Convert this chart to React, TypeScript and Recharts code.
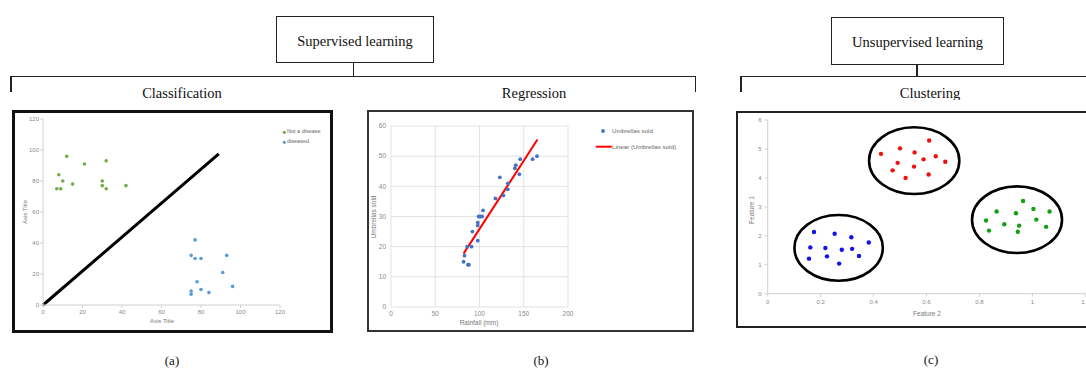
import React from 'react';
import {
  ScatterChart,
  Scatter,
  XAxis,
  YAxis,
  CartesianGrid,
  ReferenceLine,
  ReferenceArea,
} from 'recharts';

// ---- (a) Classification ----
const notDisease = [
  { x: 7, y: 75 }, { x: 8, y: 84 }, { x: 9, y: 75 }, { x: 10, y: 80 },
  { x: 12, y: 96 }, { x: 15, y: 78 }, { x: 21, y: 91 }, { x: 30, y: 80 },
  { x: 30, y: 77 }, { x: 32, y: 75 }, { x: 32, y: 93 }, { x: 42, y: 77 },
];
const diseased = [
  { x: 75, y: 32 }, { x: 77, y: 42 }, { x: 77, y: 30 }, { x: 80, y: 30 },
  { x: 75, y: 9 }, { x: 75, y: 7 }, { x: 78, y: 15 }, { x: 80, y: 10 },
  { x: 84, y: 8 }, { x: 91, y: 21 }, { x: 93, y: 32 }, { x: 96, y: 12 },
];
const boundary = [{ x: 0, y: 0 }, { x: 89, y: 97.5 }];
const classTicks = [0, 20, 40, 60, 80, 100, 120];

// ---- (b) Regression ----
const rainfall = [82, 83, 86, 87, 88, 91, 92, 98, 98, 98, 99, 101, 103, 104, 118, 123, 127, 132, 132, 140, 141, 145, 146, 160, 165];
const umbrellasSold = [15, 17, 20, 14, 14, 20, 25, 22, 27, 28, 30, 30, 30, 32, 36, 43, 37, 39, 41, 46, 47, 44, 49, 49, 50];
const trendLine = [{ x: 82, y: 17.7 }, { x: 165.5, y: 55.5 }];
const rainTicks = [0, 50, 100, 150, 200];
const soldTicks = [0, 10, 20, 30, 40, 50, 60];

// ---- (c) Clustering ----
const clusterRed = [
  { x: 0.428, y: 4.83 }, { x: 0.5, y: 5.02 }, { x: 0.555, y: 4.88 }, { x: 0.61, y: 5.29 },
  { x: 0.491, y: 4.52 }, { x: 0.589, y: 4.64 }, { x: 0.635, y: 4.75 }, { x: 0.671, y: 4.56 },
  { x: 0.472, y: 4.26 }, { x: 0.553, y: 4.39 }, { x: 0.521, y: 4.0 }, { x: 0.608, y: 4.12 },
];
const clusterGreen = [
  { x: 0.965, y: 3.2 }, { x: 0.865, y: 2.84 }, { x: 0.825, y: 2.53 }, { x: 0.836, y: 2.18 },
  { x: 0.894, y: 2.4 }, { x: 0.938, y: 2.78 }, { x: 0.95, y: 2.35 }, { x: 0.945, y: 2.14 },
  { x: 1.004, y: 2.93 }, { x: 1.015, y: 2.56 }, { x: 1.065, y: 2.84 }, { x: 1.052, y: 2.31 },
];
const clusterBlue = [
  { x: 0.175, y: 2.13 }, { x: 0.253, y: 2.07 }, { x: 0.316, y: 1.95 }, { x: 0.382, y: 1.77 },
  { x: 0.161, y: 1.6 }, { x: 0.218, y: 1.58 }, { x: 0.28, y: 1.52 }, { x: 0.319, y: 1.55 },
  { x: 0.156, y: 1.21 }, { x: 0.224, y: 1.29 }, { x: 0.345, y: 1.3 }, { x: 0.27, y: 1.04 },
];
// bounding boxes of the cluster outlines: [x1, x2, y1, y2]
const clusterOutlines = [
  [0.383, 0.724, 3.443, 5.747],
  [0.772, 1.112, 1.405, 3.708],
  [0.101, 0.435, 0.449, 2.718],
];
const featXTicks = [0, 0.2, 0.4, 0.6, 0.8, 1, 1.2];
const featYTicks = [0, 1, 2, 3, 4, 5, 6];

const regressionData = rainfall.map((x, i) => ({ x, y: umbrellasSold[i] }));

const SERIF = '"Liberation Serif", "DejaVu Serif", serif';
const SANS = '"Liberation Sans", Arial, sans-serif';

const dot = (r: number, fill: string) => (p: any) => (
  <circle cx={p.cx} cy={p.cy} r={r} fill={fill} />
);

const ellipseShape = (p: any) => (
  <ellipse
    cx={p.x + p.width / 2}
    cy={p.y + p.height / 2}
    rx={p.width / 2}
    ry={p.height / 2}
    fill="none"
    stroke="#000"
    strokeWidth={2.6}
  />
);

type TxtProps = {
  x: number;
  y: number;
  size: number;
  font?: string;
  color?: string;
  left?: boolean;
  rotate?: boolean;
  children: React.ReactNode;
};

function Txt({ x, y, size, font = SERIF, color = '#111', left, rotate, children }: TxtProps) {
  const tr = left ? 'translate(0,-50%)' : 'translate(-50%,-50%)';
  return (
    <div
      style={{
        position: 'absolute',
        left: x,
        top: y,
        transform: tr + (rotate ? ' rotate(-90deg)' : ''),
        fontFamily: font,
        fontSize: size,
        color,
        whiteSpace: 'nowrap',
        lineHeight: 1,
      }}
    >
      {children}
    </div>
  );
}

function Line({ x1, y1, x2, y2, w = 1.4, c = '#222' }: any) {
  const horiz = y1 === y2;
  return (
    <div
      style={{
        position: 'absolute',
        left: horiz ? x1 : x1 - w / 2,
        top: horiz ? y1 - w / 2 : y1,
        width: horiz ? x2 - x1 : w,
        height: horiz ? w : y2 - y1,
        background: c,
      }}
    />
  );
}

function Box({ x, y, w, h, b, c = '#222' }: any) {
  return (
    <div
      style={{
        position: 'absolute',
        left: x,
        top: y,
        width: w,
        height: h,
        border: `${b}px solid ${c}`,
        boxSizing: 'border-box',
        pointerEvents: 'none',
      }}
    />
  );
}

const tickGray = { fill: '#8a8a8a', fontSize: 6, fontFamily: SANS };
const axisGray = '#d0d0d0';

function ClassificationChart() {
  return (
    <div style={{ position: 'absolute', left: 12, top: 110 }}>
      <ScatterChart width={322} height={222} margin={{ top: 9, right: 54, bottom: 0, left: 11 }}>
        <XAxis
          type="number"
          dataKey="x"
          domain={[0, 120]}
          ticks={classTicks}
          height={27}
          stroke={axisGray}
          tickSize={3}
          tickMargin={2}
          tick={tickGray}
        />
        <YAxis
          type="number"
          dataKey="y"
          domain={[0, 120]}
          ticks={classTicks}
          width={20}
          stroke={axisGray}
          tickSize={3}
          tickMargin={1}
          tick={tickGray}
        />
        <ReferenceLine segment={boundary} stroke="#000" strokeWidth={3} />
        <Scatter data={notDisease} fill="#70AD47" shape={dot(1.8, '#70AD47')} isAnimationActive={false} />
        <Scatter data={diseased} fill="#5B9BD5" shape={dot(1.8, '#5B9BD5')} isAnimationActive={false} />
      </ScatterChart>
    </div>
  );
}

function RegressionChart() {
  return (
    <div style={{ position: 'absolute', left: 367, top: 110 }}>
      <ScatterChart width={327} height={222} margin={{ top: 16, right: 126, bottom: 5, left: 6 }}>
        <CartesianGrid stroke="#dcdcdc" strokeWidth={0.8} />
        <XAxis
          type="number"
          dataKey="x"
          domain={[0, 200]}
          ticks={rainTicks}
          height={20}
          axisLine={false}
          tickLine={false}
          tickSize={0}
          tickMargin={4}
          tick={{ ...tickGray, fontSize: 6.5 }}
        />
        <YAxis
          type="number"
          dataKey="y"
          domain={[0, 60]}
          ticks={soldTicks}
          width={18}
          axisLine={false}
          tickLine={false}
          tickSize={0}
          tickMargin={5}
          tick={{ ...tickGray, fontSize: 6.5 }}
        />
        <Scatter data={regressionData} fill="#4472C4" shape={dot(1.9, '#4472C4')} isAnimationActive={false} />
        <ReferenceLine segment={trendLine} stroke="#FF0000" strokeWidth={2} />
      </ScatterChart>
    </div>
  );
}

function ClusteringChart() {
  return (
    <div style={{ position: 'absolute', left: 736, top: 111 }}>
      <ScatterChart width={360} height={217} margin={{ top: 9, right: 10.7, bottom: 10.3, left: 11.7 }}>
        <XAxis
          type="number"
          dataKey="x"
          domain={[0, 1.2]}
          ticks={featXTicks}
          height={24}
          stroke={axisGray}
          tickSize={3}
          tickMargin={3}
          tick={tickGray}
        />
        <YAxis
          type="number"
          dataKey="y"
          domain={[0, 6]}
          ticks={featYTicks}
          width={20}
          stroke={axisGray}
          tickSize={3}
          tickMargin={3}
          tick={tickGray}
        />
        {clusterOutlines.map(([x1, x2, y1, y2], i) => (
          <ReferenceArea key={i} x1={x1} x2={x2} y1={y1} y2={y2} shape={ellipseShape} ifOverflow="visible" />
        ))}
        <Scatter data={clusterRed} fill="#EE1111" shape={dot(2.2, '#EE1111')} isAnimationActive={false} />
        <Scatter data={clusterGreen} fill="#13A013" shape={dot(2.2, '#13A013')} isAnimationActive={false} />
        <Scatter data={clusterBlue} fill="#1111EE" shape={dot(2.2, '#1111EE')} isAnimationActive={false} />
      </ScatterChart>
    </div>
  );
}

export default function App() {
  return (
    <div
      style={{
        position: 'absolute',
        left: 0,
        top: 0,
        width: 1086,
        height: 369,
        overflow: 'hidden',
        background: '#fff',
      }}
    >
      {/* hierarchy: supervised */}
      <Box x={276} y={16} w={158} h={47} b={1.3} />
      <Txt x={355} y={40.5} size={14.5}>Supervised learning</Txt>
      <Line x1={353.3} y1={63} x2={353.3} y2={76.7} />
      <Line x1={10.3} y1={76.7} x2={696.4} y2={76.7} />
      <Line x1={11} y1={76} x2={11} y2={91.7} />
      <Line x1={695.7} y1={76} x2={695.7} y2={91.7} />
      <Txt x={182} y={93} size={14.5}>Classification</Txt>
      <Txt x={534} y={93} size={14.5}>Regression</Txt>

      {/* hierarchy: unsupervised */}
      <Box x={831} y={17} w={173} h={48} b={1.3} />
      <Txt x={917.5} y={42} size={14.5}>Unsupervised learning</Txt>
      <Line x1={917} y1={65} x2={917} y2={76.7} />
      <Line x1={740.3} y1={76.7} x2={1086} y2={76.7} />
      <Line x1={741} y1={76} x2={741} y2={91.7} />
      <div style={{ position: 'absolute', left: 880, top: 80, width: 100, height: 20, overflow: 'hidden' }}>
        <Txt x={50} y={13} size={14.5}>Clustering</Txt>
      </div>

      {/* (a) classification panel */}
      <ClassificationChart />
      <Box x={12} y={110} w={321} h={223} b={3} c="#111" />
      <Txt x={162} y={321} size={6} font={SANS} color="#7a7a7a">Axis Title</Txt>
      <Txt x={25} y={212} size={6} font={SANS} color="#7a7a7a" rotate>Axis Title</Txt>
      <svg style={{ position: 'absolute', left: 282, top: 130 }} width={5} height={15}>
        <circle cx={2.3} cy={2.3} r={1.6} fill="#70AD47" />
        <circle cx={2.3} cy={12.3} r={1.6} fill="#5B9BD5" />
      </svg>
      <Txt x={287} y={132.3} size={5.5} font={SANS} color="#666" left>Not a disease</Txt>
      <Txt x={287} y={142.3} size={5.5} font={SANS} color="#666" left>diseased</Txt>

      {/* (b) regression panel */}
      <RegressionChart />
      <Box x={367} y={110} w={327} h={222} b={2} c="#333" />
      <Txt x={374} y={217} size={6.5} font={SANS} color="#7a7a7a" rotate>Umbrellas sold</Txt>
      <Txt x={479} y={323} size={6.5} font={SANS} color="#7a7a7a">Rainfall (mm)</Txt>
      <svg style={{ position: 'absolute', left: 595, top: 128 }} width={18} height={22}>
        <circle cx={8} cy={3} r={1.9} fill="#4472C4" />
        <line x1={0.7} y1={18.7} x2={16.7} y2={18.7} stroke="#FF0000" strokeWidth={2} />
      </svg>
      <Txt x={612} y={131} size={6.2} font={SANS} color="#666" left>Umbrellas sold</Txt>
      <Txt x={612} y={147} size={6.2} font={SANS} color="#666" left>Linear (Umbrellas sold)</Txt>

      {/* (c) clustering panel */}
      <ClusteringChart />
      <Box x={736} y={111} w={360} h={217} b={2} c="#222" />
      <Txt x={752} y={210} size={6.5} font={SANS} color="#7a7a7a" rotate>Feature 1</Txt>
      <Txt x={927} y={314} size={6.5} font={SANS} color="#7a7a7a">Feature 2</Txt>

      {/* panel captions */}
      <Txt x={172} y={360} size={13}>(a)</Txt>
      <Txt x={541} y={360} size={13}>(b)</Txt>
      <Txt x={931} y={359} size={13}>(c)</Txt>
    </div>
  );
}
